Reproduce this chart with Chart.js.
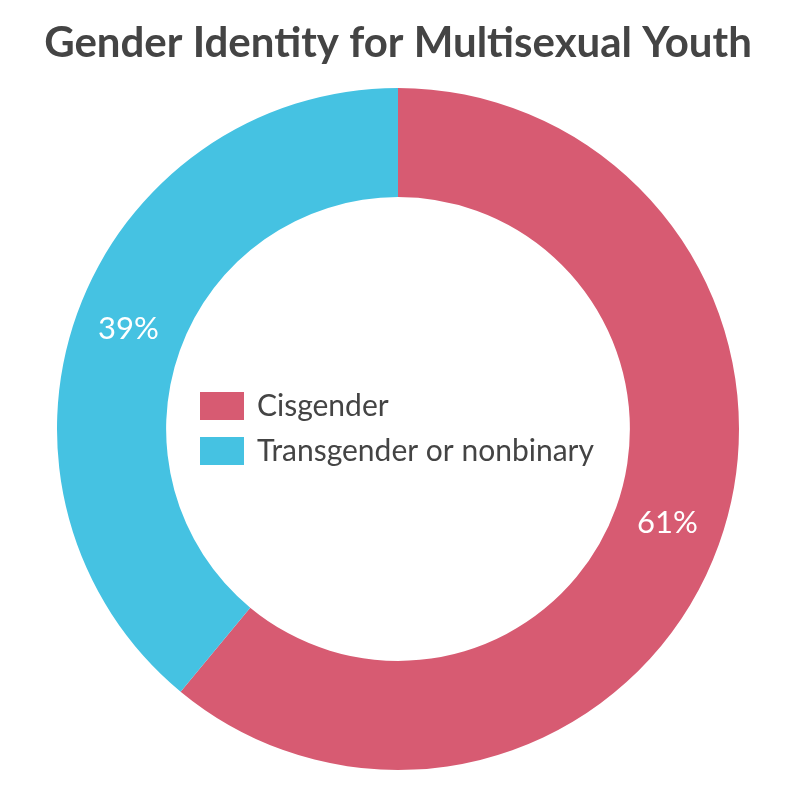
<!DOCTYPE html>
<html><head><meta charset="utf-8">
<script src="https://cdn.jsdelivr.net/npm/chart.js@4/dist/chart.umd.min.js"></script>
<style>html,body{margin:0;padding:0;background:#fff;}#wrap{width:796px;height:796px;}</style>
</head><body><div id="wrap"><canvas id="c" width="796" height="796"></canvas></div>
<script>
const categories = ["Cisgender", "Transgender or nonbinary"];
const values = [61, 39];
const colors = ["#D75B72", "#45C2E2"];
const titleText = "Gender Identity for Multisexual Youth";

const centerLegend = {
  id: 'centerLegend',
  afterDraw(chart) {
    const ctx = chart.ctx;
    const meta = chart.getDatasetMeta(0);
    ctx.save();
    ctx.font = '31px Lato';
    ctx.fillStyle = '#ffffff';
    ctx.textAlign = 'center';
    ctx.textBaseline = 'middle';
    meta.data.forEach((arc, i) => {
      const p = arc.tooltipPosition();
      ctx.fillText(values[i] + '%', p.x, p.y - 3);
    });
    const cx = meta.data[0].x, cy = meta.data[0].y;
    ctx.font = '30px Lato';
    ctx.textAlign = 'left';
    ctx.textBaseline = 'middle';
    const boxW = 44, boxH = 28, gap = 13, lineH = 45;
    const left = cx - 198;
    const top = cy - 23;
    categories.forEach((c, i) => {
      const y = top + i * lineH;
      ctx.fillStyle = colors[i];
      ctx.fillRect(left, y - boxH / 2, boxW, boxH);
      ctx.fillStyle = '#444444';
      ctx.fillText(c, left + boxW + gap, y);
    });
    ctx.restore();
  }
};

new Chart(document.getElementById('c'), {
  type: 'doughnut',
  data: {
    labels: categories,
    datasets: [{ data: values, backgroundColor: colors, borderWidth: 0, hoverOffset: 0 }]
  },
  options: {
    responsive: false,
    animation: false,
    cutout: '68%',
    layout: { padding: { bottom: 26 } },
    plugins: {
      legend: { display: false },
      tooltip: { enabled: false },
      title: {
        display: true,
        text: titleText,
        color: '#444444',
        font: { family: 'Lato', size: 42, weight: 'bold', lineHeight: 1.2 },
        padding: { top: 18, bottom: 19.6 }
      }
    }
  },
  plugins: [centerLegend]
});
</script></body></html>
